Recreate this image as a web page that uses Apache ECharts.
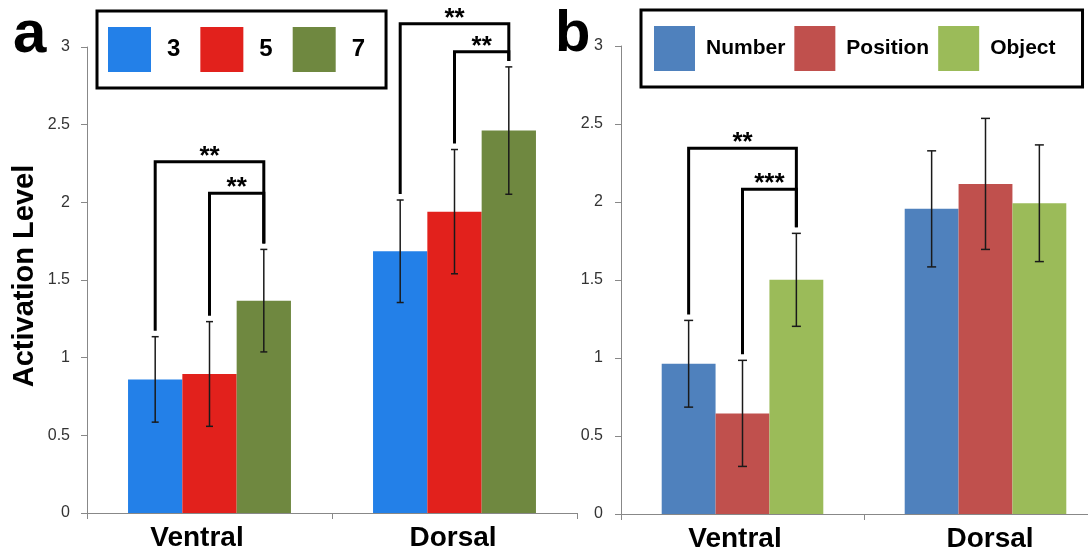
<!DOCTYPE html>
<html><head><meta charset="utf-8">
<script src="https://cdn.jsdelivr.net/npm/echarts@6/dist/echarts.min.js"></script>
<style>html,body{margin:0;padding:0;background:#fff}#c{width:1088px;height:552px}</style>
</head><body><div id="c"></div>
<script>
// ---------- data ----------
const categories = ['Ventral', 'Dorsal'];
const leftNames = ['3', '5', '7'];
const leftMeans = [[0.86, 1.685], [0.895, 1.94], [1.367, 2.462]];
const leftErrs = [[0.275, 0.33], [0.337, 0.40], [0.33, 0.41]];
const rightNames = ['Number', 'Position', 'Object'];
const rightMeans = [[0.963, 1.956], [0.645, 2.116], [1.501, 1.992]];
const rightErrs = [[0.278, 0.372], [0.34, 0.42], [0.298, 0.374]];
// significance brackets: [category, fromSeries, toSeries, bracket level, stars]
const leftSig = [[0, 0, 2, 2.262, '**'], [0, 1, 2, 2.059, '**'], [1, 0, 2, 3.149, '**'], [1, 1, 2, 2.97, '**']];
const rightSig = [[0, 0, 2, 2.345, '**'], [0, 1, 2, 2.082, '***']];

// ---------- styles ----------
const leftColors = ['#2380E8', '#E2211C', '#6F8840'];
const rightColors = ['#4F81BD', '#C0504D', '#9BBB59'];
const GAP = 0.335;
const FONT = 'Liberation Sans, Arial, sans-serif';

function barOffset(api, s) {
  const band = api.size([1, 0])[0];
  const bw = band * (1 - GAP) / 3;
  return (s - 1) * bw;
}

function errRender(sIdx, cw) {
  return function (params, api) {
    const cat = api.value(0), m = api.value(1), e = api.value(2);
    const x = api.coord([cat, m])[0] + barOffset(api, sIdx);
    const yt = api.coord([cat, m + e])[1];
    const yb = api.coord([cat, m - e])[1];
    const st = { stroke: '#1a1a1a', lineWidth: 1.5 };
    return {
      type: 'group', children: [
        { type: 'line', shape: { x1: x, y1: yt, x2: x, y2: yb }, style: st },
        { type: 'line', shape: { x1: x - cw, y1: yt, x2: x + cw, y2: yt }, style: st },
        { type: 'line', shape: { x1: x - cw, y1: yb, x2: x + cw, y2: yb }, style: st }
      ]
    };
  };
}

function sigRender(sig, means, errs) {
  return function (params, api) {
    const d = sig[params.dataIndex];
    const cat = d[0], a = d[1], b = d[2], lvl = d[3];
    const xa = api.coord([cat, 0])[0] + barOffset(api, a);
    const xb = api.coord([cat, 0])[0] + barOffset(api, b);
    const ya = api.coord([cat, means[a][cat] + errs[a][cat]])[1] - 6;
    const yb = api.coord([cat, means[b][cat] + errs[b][cat]])[1] - 6;
    const yl = api.coord([cat, lvl])[1];
    return {
      type: 'group', children: [
        { type: 'polyline', shape: { points: [[xa, ya], [xa, yl], [xb, yl], [xb, yb]] },
          style: { stroke: '#000', lineWidth: 3, fill: null } },
        { type: 'text', x: (xa + xb) / 2, y: yl - 5,
          style: { text: d[4], font: 'bold 26px ' + FONT, fill: '#000', align: 'center', verticalAlign: 'middle' } }
      ]
    };
  };
}

function makeSeries(names, means, errs, colors, gi, sig, cw) {
  const out = [];
  names.forEach((n, s) => {
    out.push({
      type: 'bar', name: n, xAxisIndex: gi, yAxisIndex: gi,
      data: means[s], barGap: '0%', barCategoryGap: (GAP * 100) + '%',
      itemStyle: { color: colors[s] }, z: 2
    });
  });
  names.forEach((n, s) => {
    out.push({
      type: 'custom', name: 'err' + gi + '_' + s, xAxisIndex: gi, yAxisIndex: gi, z: 3,
      data: categories.map((c, i) => [i, means[s][i], errs[s][i]]),
      encode: { x: 0, y: 1 }, renderItem: errRender(s, cw), clip: false
    });
  });
  out.push({
    type: 'custom', name: 'sig' + gi, xAxisIndex: gi, yAxisIndex: gi, z: 4,
    data: sig.map(d => [d[0], d[3]]), encode: { x: 0, y: 1 },
    renderItem: sigRender(sig, means, errs), clip: false
  });
  return out;
}

function xAx(gi, padV, padD) {
  const base = { fontSize: 28, fontWeight: 'bold', color: '#000', fontFamily: FONT };
  return {
    type: 'category', gridIndex: gi, data: categories,
    axisLine: { show: true, lineStyle: { color: '#888', width: 1 } },
    axisTick: { show: true, length: 6, lineStyle: { color: '#888' } },
    axisLabel: {
      margin: 11, fontSize: 28, fontWeight: 'bold', color: '#000', fontFamily: FONT,
      hideOverlap: false,
      formatter: (v, i) => '{k' + i + '|' + v + '}',
      rich: { k0: Object.assign({ padding: padV }, base), k1: Object.assign({ padding: padD }, base) }
    },
    splitLine: { show: false }
  };
}
function yAx(gi, margin) {
  return {
    type: 'value', gridIndex: gi, min: 0, max: 3, interval: 0.5,
    axisLine: { show: true, lineStyle: { color: '#888', width: 1 } },
    axisTick: { show: true, length: 6, lineStyle: { color: '#888' } },
    axisLabel: { fontSize: 16, color: '#333', margin: margin, fontFamily: FONT },
    splitLine: { show: false }
  };
}

const chart = echarts.init(document.getElementById('c'), null, { renderer: 'canvas' });
chart.setOption({
  animation: false,
  backgroundColor: '#fff',
  grid: [
    { left: 87, top: 47, width: 490, height: 466, containLabel: false, outerBoundsMode: 'none' },
    { left: 621, top: 46, width: 486, height: 468, containLabel: false, outerBoundsMode: 'none' }
  ],
  xAxis: [xAx(0, [0, 25, 0, 0], [0, 3, 0, 0]), xAx(1, [0, 15, 0, 0], [0, 0, 0, 9])],
  yAxis: [yAx(0, 17), yAx(1, 18)],
  legend: [
    { data: leftNames, left: 97, top: 11, orient: 'horizontal', icon: 'rect',
      itemWidth: 43, itemHeight: 45, itemGap: 20, selectedMode: false,
      borderColor: '#000', borderWidth: 3, borderRadius: 0, padding: [16, 21, 16, 11],
      textStyle: { fontSize: 24, fontWeight: 'bold', color: '#000', fontFamily: FONT, padding: [0, 0, 0, 11] } },
    { data: rightNames, left: 641, top: 10, orient: 'horizontal', icon: 'rect',
      itemWidth: 41, itemHeight: 45, itemGap: 9, selectedMode: false,
      borderColor: '#000', borderWidth: 3, borderRadius: 0, padding: [16, 27, 16, 13],
      textStyle: { fontSize: 21, fontWeight: 'bold', color: '#000', fontFamily: FONT, padding: [0, 0, 0, 6] } }
  ],
  graphic: [
    { type: 'text', x: 13, y: 35, style: { text: 'a', font: 'bold 60px ' + FONT, fill: '#000', align: 'left', verticalAlign: 'middle' } },
    { type: 'text', x: 555, y: 35, style: { text: 'b', font: 'bold 58px ' + FONT, fill: '#000', align: 'left', verticalAlign: 'middle' } },
    { type: 'text', x: 25, y: 276, rotation: Math.PI / 2,
      style: { text: 'Activation Level', font: 'bold 29px ' + FONT, fill: '#000', align: 'center', verticalAlign: 'middle' } }
  ],
  series: makeSeries(leftNames, leftMeans, leftErrs, leftColors, 0, leftSig, 3.5)
    .concat(makeSeries(rightNames, rightMeans, rightErrs, rightColors, 1, rightSig, 4.5))
});
</script>
</body></html>
